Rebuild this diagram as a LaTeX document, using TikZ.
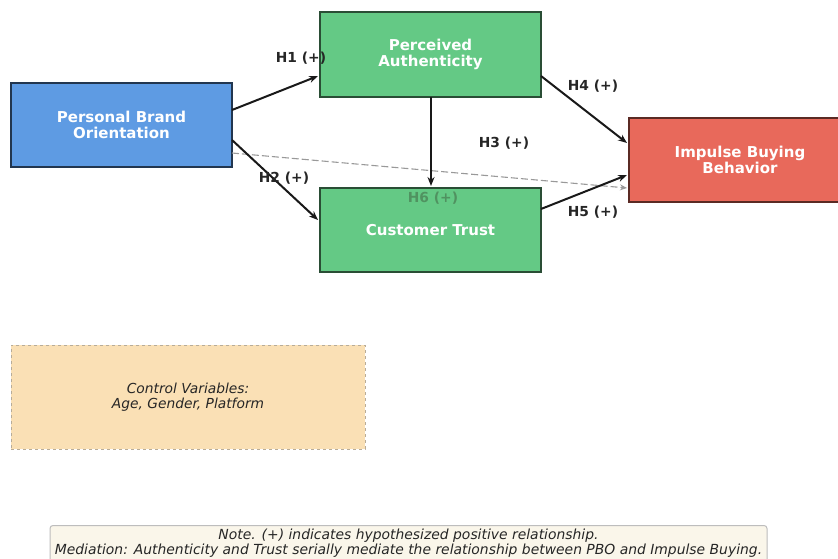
\documentclass[tikz,border=0pt]{standalone}
\usepackage{fontspec}
\setmainfont{DejaVu Sans}
\usetikzlibrary{arrows.meta}
\definecolor{pboblue}{HTML}{5E9BE3}
\definecolor{pboedge}{HTML}{22364F}
\definecolor{grn}{HTML}{64C985}
\definecolor{grnedge}{HTML}{2A4D35}
\definecolor{ibbred}{HTML}{E8695B}
\definecolor{ibbedge}{HTML}{5A2A24}
\definecolor{ctrlfill}{HTML}{FAE0B5}
\definecolor{ctrledge}{HTML}{B8AC98}
\definecolor{notefill}{HTML}{FAF6EA}
\definecolor{noteedge}{HTML}{BDBDBD}
\begin{document}
\begin{tikzpicture}[x=1pt,y=-1pt,
  box/.style={draw, line width=1.6pt, inner sep=0pt, align=center,
    text=white, font=\fontsize{15}{16}\selectfont\bfseries},
  arr/.style={-{Stealth[length=9pt,width=7pt]}, line width=2pt, black!90},
  hlab/.style={font=\fontsize{13.8}{14}\selectfont\bfseries, text=black!85},
]
\useasboundingbox (0,0) rectangle (838,559);
\fill[white] (0,0) rectangle (838,559);

\node[box, fill=pboblue, draw=pboedge, minimum width=221pt, minimum height=84pt]
  (pbo) at (121.5,125) {Personal Brand\\Orientation};
\node[box, fill=grn, draw=grnedge, minimum width=221pt, minimum height=85pt]
  (pa) at (430.5,54.5) {Perceived\\Authenticity};
\node[box, fill=grn, draw=grnedge, minimum width=221pt, minimum height=84pt]
  (ct) at (430.5,230) {Customer Trust};
\node[box, fill=ibbred, draw=ibbedge, minimum width=222pt, minimum height=84pt, anchor=west]
  (ibb) at (628,160) {};
\node[text=white, font=\fontsize{15}{16}\selectfont\bfseries, align=center]
  (ibbt) at (740,160) {Impulse Buying\\Behavior};

% connectors
\coordinate (h1s) at (232,110);
\coordinate (h1e) at (318,76);
\coordinate (h2s) at (232,140);
\coordinate (h2e) at (318,220);
\coordinate (h3s) at (431,97);
\coordinate (h3e) at (431,186);
\coordinate (h4s) at (541,76);
\coordinate (h4e) at (627,143);
\coordinate (h5s) at (541,209);
\coordinate (h5e) at (627,175);
\coordinate (h6s) at (232,153);
\coordinate (h6e) at (627,188);

\draw[-{Stealth[length=7pt,width=6pt]}, gray!80, line width=1.1pt, dash pattern=on 7pt off 3pt] (h6s) -- (h6e);
\draw[arr] (h1s) -- (h1e);
\draw[arr] (h2s) -- (h2e);
\draw[arr] (h3s) -- (h3e);
\draw[arr] (h4s) -- (h4e);
\draw[arr] (h5s) -- (h5e);

\node[hlab] (l1) at (301,58) {H1 (+)};
\node[hlab] (l2) at (284,178) {H2 (+)};
\node[hlab] (l3) at (504,143) {H3 (+)};
\node[hlab] (l4) at (593,86) {H4 (+)};
\node[hlab] (l5) at (593,212) {H5 (+)};
\node[hlab, text=gray!80!green!60!black, opacity=0.5] (l6) at (433,198) {H6 (+)};

% control variables
\node[draw=ctrledge, fill=ctrlfill, dashed, line width=1pt, minimum width=354pt, minimum height=104pt,
  align=center, font=\fontsize{13.8}{15.5}\selectfont\itshape, text=black!85]
  (ctrl) at (188,397) {Control Variables:\\Age, Gender, Platform};

% note
\node[draw=noteedge, fill=notefill, rounded corners=3pt, line width=1pt,
  minimum width=717pt, minimum height=42pt, anchor=north]
  (note) at (408.5,525) {};
\node[align=center, font=\fontsize{13.9}{15}\selectfont\itshape, text=black!85]
  (notet) at (408.5,543) {Note. (+) indicates hypothesized positive relationship.\\Mediation: Authenticity and Trust serially mediate the relationship between PBO and Impulse Buying.};
\end{tikzpicture}
\end{document}
